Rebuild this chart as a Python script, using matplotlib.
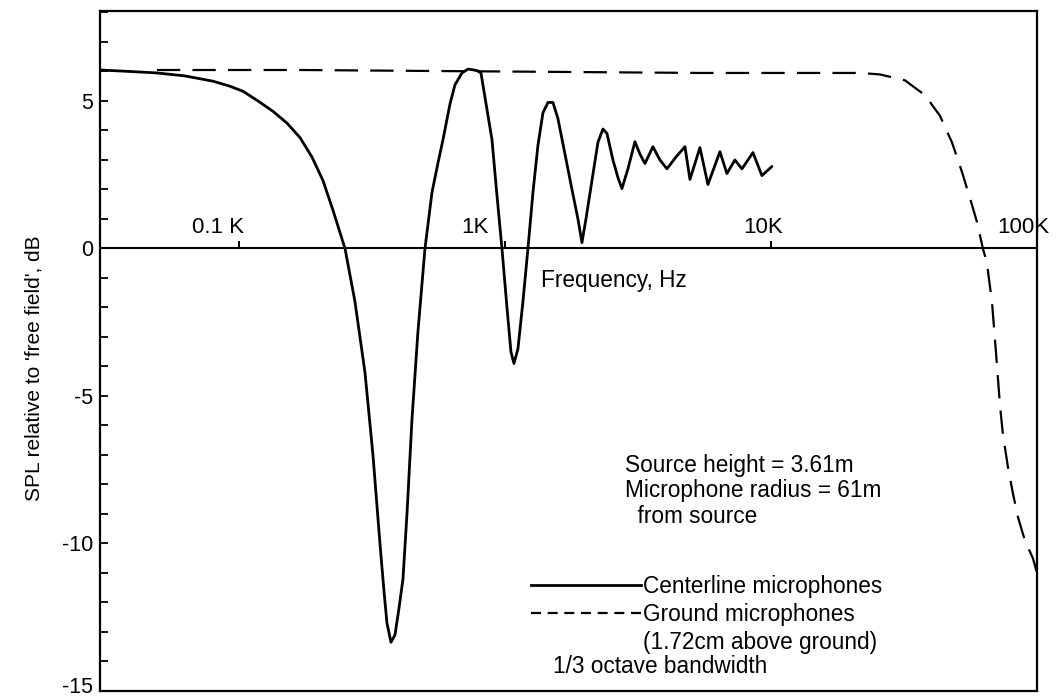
import matplotlib
matplotlib.use("Agg")
import matplotlib.pyplot as plt
from matplotlib.lines import Line2D
from matplotlib.ticker import MultipleLocator, NullLocator
from matplotlib.transforms import ScaledTranslation

plt.rcParams['font.family'] = ['Liberation Sans', 'DejaVu Sans']
plt.rcParams['axes.unicode_minus'] = False

# ---------------- data ----------------
centerline_freq_hz = [30.0, 38.9, 49.1, 62.6, 79.8, 92.4, 103.4, 117.8, 134.1, 151.4,
                      169.4, 188.0, 206.8, 225.4, 250.2, 272.7, 297.4, 318.7, 338.6, 350.5,
                      359.8, 372.5, 385.6, 399.2, 413.3, 427.8, 446.7, 470.6, 500.0, 531.2,
                      559.6, 584.4, 620.9, 648.4, 688.7, 725.5, 764.2, 791.2, 811.8, 847.8,
                      892.9, 932.4, 973.6, 1016.7, 1052.4, 1080.1, 1118.1, 1167.5, 1219.3, 1273.2,
                      1329.6, 1388.4, 1449.9, 1514.0, 1581.0, 1680.0, 1785.0, 1879.6, 1945.7, 2014.5,
                      2121.8, 2235.1, 2334.0, 2416.1, 2545.1, 2657.7, 2751.1, 2897.6, 3078.5, 3214.7,
                      3357.4, 3597.5, 3822.9, 4061.6, 4390.3, 4746.5, 4956.5, 5403.5, 5791.3, 6425.3,
                      6825.1, 7314.2, 7774.6, 8551.0, 9242.4, 10078.0]
centerline_db = [6.05, 6.0, 5.95, 5.85, 5.67, 5.5, 5.33, 5.0, 4.65, 4.25,
                 3.76, 3.1, 2.3, 1.3, 0.0, -1.8, -4.2, -7.0, -10.0, -11.6,
                 -12.7, -13.35, -13.1, -12.2, -11.2, -9.0, -5.8, -2.8, 0.0, 1.9,
                 2.9, 3.69, 4.9, 5.55, 5.95, 6.08, 6.05, 6.02, 5.95, 4.92,
                 3.69, 1.8, 0.0, -2.0, -3.5, -3.9, -3.4, -1.8, 0.0, 1.9,
                 3.5, 4.6, 4.95, 4.95, 4.4, 3.2, 2.0, 1.0, 0.2, 1.0,
                 2.3, 3.6, 4.05, 3.9, 3.0, 2.4, 2.03, 2.7, 3.62, 3.2,
                 2.88, 3.45, 3.0, 2.7, 3.1, 3.45, 2.34, 3.42, 2.17, 3.28,
                 2.54, 3.0, 2.7, 3.25, 2.47, 2.78]

ground_freq_hz = [49.1, 169.4, 957.0, 5403.5, 21590, 25670, 31870, 37890, 43150, 47880,
                  52200, 56440, 59460, 62610, 64830, 67700, 70080, 72550, 74440, 77730,
                  81170, 84780, 90050, 96520, 100000]
ground_db = [6.05, 6.05, 6.0, 5.95, 5.95, 5.9, 5.7, 5.2, 4.5, 3.6,
             2.6, 1.6, 0.9, 0.0, -0.5, -1.8, -3.5, -5.3, -6.3, -7.4,
             -8.3, -9.1, -9.9, -10.5, -11.0]

xtick_values = [100, 1000, 10000, 100000]
xtick_labels = ['0.1 K', '1K', '10K', '100K']
ytick_values = [5, 0, -5, -10, -15]
ytick_labels = ['5', '0', '-5', '-10', '-15']

series_labels = ['Centerline microphones', 'Ground microphones', '(1.72cm above ground)']
info_text = 'Source height = 3.61m\nMicrophone radius = 61m\n  from source'
bandwidth_text = '1/3 octave bandwidth'
xlabel_text = 'Frequency, Hz'
ylabel_text = "SPL relative to 'free field', dB"

# ---------------- layout ----------------
FS = 15.5      # axis numbers / y label
FT = 16.3      # annotation texts
W, H = 1061, 697
fig = plt.figure(figsize=(W / 100, H / 100), dpi=100)
ax = fig.add_axes([100 / W, (H - 691) / H, 937 / W, 680 / H])

ylo, yhi = -15.0, 8.05
ax.set_xscale('log')
ax.set_xlim(30, 100000)
ax.set_ylim(ylo, yhi)

for s in ax.spines.values():
    s.set_linewidth(1.6)

ax.plot(centerline_freq_hz, centerline_db, color='black', lw=2.0,
        solid_joinstyle='round', solid_capstyle='round')
ax.plot(ground_freq_hz, ground_db, color='black', lw=1.6,
        linestyle=(0, (10.5, 5.5)))

ax.axhline(0, color='black', lw=1.5)

# x axis: ticks on the zero line
ax.tick_params(axis='x', which='both', bottom=False, top=False,
               labelbottom=False, labeltop=False)
sec = ax.secondary_xaxis((0 - ylo) / (yhi - ylo))
sec.set_xticks(xtick_values)
sec.xaxis.set_minor_locator(NullLocator())
sec.set_xticklabels([''] * len(xtick_values))
sec.tick_params(which='both', direction='out', length=5, width=1.4)
for s in sec.spines.values():
    s.set_visible(False)

label_dx_pt = [-15.5, -22, -6, -10]
for xv, lab, dx in zip(xtick_values, xtick_labels, label_dx_pt):
    ax.annotate(lab, xy=(xv, 0), xytext=(dx, 11.5), textcoords='offset points',
                ha='center', va='baseline', fontsize=FS + 0.5)

# y axis
ax.yaxis.set_minor_locator(MultipleLocator(1))
ax.set_yticks(ytick_values, labels=ytick_labels)
ax.tick_params(axis='y', which='both', direction='in', length=6, width=1.3,
               left=True, right=False, labelsize=FS, pad=5)
# keep the bottom label inside the picture
lowest = ax.get_yticklabels()[-1]
lowest.set_transform(lowest.get_transform() + ScaledTranslation(0, 4 / 72, fig.dpi_scale_trans))

ax.set_ylabel(ylabel_text, fontsize=FS - 0.5)
ax.yaxis.set_label_coords((44 - 100) / 937, 0.474)

ax.text((541 - 100) / 937, (691 - 286.5) / 680, xlabel_text, transform=ax.transAxes,
        fontsize=FT, ha='left', va='baseline')

ax.text((625 - 100) / 937, (691 - 523) / 680, info_text, transform=ax.transAxes,
        fontsize=FT, ha='left', va='baseline', linespacing=1.15)

handles = [Line2D([], [], color='black', lw=2.0),
           Line2D([], [], color='black', lw=1.6, linestyle=(0, (4.5, 3))),
           Line2D([], [], alpha=0)]
leg = ax.legend(handles, series_labels, loc='upper left',
                bbox_to_anchor=((531 - 100) / 937, (691 - 575) / 680),
                frameon=False, fontsize=FT, handlelength=4.86, handletextpad=0.1,
                labelspacing=0.22, borderpad=0, borderaxespad=0)

ax.text((553 - 100) / 937, (691 - 673) / 680, bandwidth_text, transform=ax.transAxes,
        fontsize=FT, ha='left', va='baseline')

fig.savefig('out.png', dpi=100)
